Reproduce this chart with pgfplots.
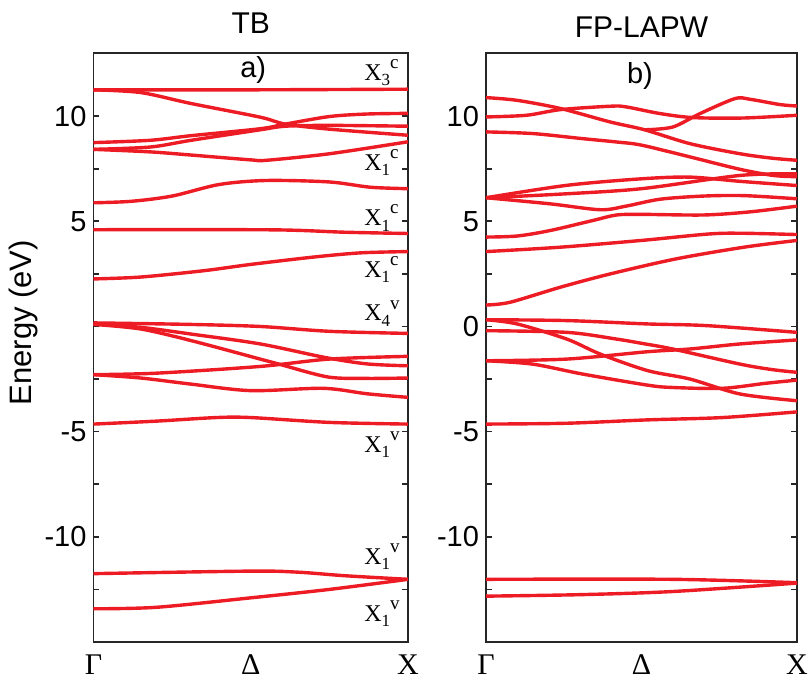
\documentclass[border=0pt]{standalone}
\usepackage{fontspec}
\setmainfont{Liberation Sans}
\newfontfamily\serif{Liberation Serif}
\usepackage{pgfplots}
\pgfplotsset{compat=1.18}
\definecolor{bandred}{RGB}{237,28,36}
\newcommand\XL[2]{{\serif X}\raisebox{-0.5ex}{\fontsize{8.5}{9}\selectfont\serif #1}\raisebox{1.05ex}{\fontsize{9.5}{10}\selectfont #2}}
\pgfplotsset{
  bandax/.style={
    scale only axis, height=294.5pt, anchor=south west,
    xmin=0, xmax=1, ymin=-15, ymax=13, clip=false,
    axis line style={line width=0.8pt, black!85},
    ytick={-12.5,-10,-7.5,-5,-2.5,0,2.5,5,7.5,10},
    ytick style={line width=0.8pt, black!85},
    major tick length=2.8pt,
    yticklabel style={font=\fontsize{14.5}{16}\selectfont},
    xtick={0,0.5,1}, xticklabels={Γ,Δ,X},
    xtick style={draw=none},
    xticklabel style={font=\serif\fontsize{15}{16}\selectfont, inner ysep=0pt, text depth=0pt, yshift=-6pt},
  },
  band/.style={smooth, bandred, line width=1.7pt, mark=none},
}
\begin{document}
\begin{tikzpicture}
\useasboundingbox (-46.75pt,-20pt) rectangle (357.25pt,321pt);
% ---------------- left: TB
\begin{axis}[bandax, at={(0,0)}, width=157.25pt,
  yticklabels={,-10,,-5,,,,5,,10}]
\addplot[band] coordinates {(0,11.25) (0.5,11.25) (1,11.28)};
\addplot[band] coordinates {(0,11.25) (0.15,11.12) (0.31,10.6) (0.53,9.95) (0.61,9.62) (0.75,9.38) (1,9.09)};
\addplot[band] coordinates {(0,8.74) (0.18,8.85) (0.31,9.07) (0.53,9.4) (0.61,9.62) (0.75,9.98) (0.87,10.1) (1,10.13)};
\addplot[band] coordinates {(0,8.42) (0.18,8.53) (0.31,8.85) (0.53,9.35) (0.61,9.52) (0.75,9.56) (1,9.52)};
\addplot[band] coordinates {(0,8.42) (0.18,8.3) (0.31,8.15) (0.5,7.92) (0.55,7.9) (0.75,8.21) (1,8.78)};
\addplot[band] coordinates {(0,5.88) (0.12,5.95) (0.25,6.2) (0.4,6.75) (0.55,6.94) (0.75,6.87) (0.88,6.62) (1,6.55)};
\addplot[band] coordinates {(0,4.6) (0.5,4.6) (0.65,4.57) (0.8,4.48) (1,4.42)};
\addplot[band] coordinates {(0,2.26) (0.15,2.35) (0.35,2.65) (0.5,2.95) (0.7,3.3) (0.85,3.5) (1,3.56)};
\addplot[band] coordinates {(0,0.17) (0.3,0.1) (0.53,0.0) (0.75,-0.23) (1,-0.33)};
\addplot[band] coordinates {(0,0.12) (0.15,-0.04) (0.31,-0.36) (0.53,-0.83) (0.735,-1.47) (0.87,-1.78) (1,-1.87)};
\addplot[band] coordinates {(0,0.1) (0.15,-0.12) (0.31,-0.67) (0.53,-1.55) (0.59,-1.79) (0.745,-2.4) (0.87,-2.47) (1,-2.45)};
\addplot[band] coordinates {(0,-2.29) (0.2,-2.22) (0.53,-1.9) (0.75,-1.55) (1,-1.42)};
\addplot[band] coordinates {(0,-2.29) (0.15,-2.45) (0.31,-2.74) (0.5,-3.05) (0.73,-2.94) (0.87,-3.2) (1,-3.37)};
\addplot[band] coordinates {(0,-4.64) (0.2,-4.5) (0.39,-4.33) (0.5,-4.33) (0.75,-4.56) (1,-4.64)};
\addplot[band] coordinates {(0,-11.75) (0.5,-11.63) (0.65,-11.68) (0.8,-11.85) (1,-12.02)};
\addplot[band] coordinates {(0,-13.42) (0.2,-13.35) (0.5,-12.9) (0.75,-12.5) (1,-12.02)};
\node[anchor=base, font=\fontsize{15}{16}\selectfont] at ([yshift=10pt]rel axis cs:0.5,1) {TB};
\node[font=\fontsize{14.5}{16}\selectfont] at (axis cs:0.508,12.18) {a)};
\node[rotate=90, font=\fontsize{15.5}{16}\selectfont] at ([xshift=-35pt]rel axis cs:0,0.542) {Energy (eV)};
\node[anchor=base west, inner sep=0pt, font=\serif\fontsize{12}{13}\selectfont] at (axis cs:0.86,11.7) {\XL{3}{c}};
\node[anchor=base west, inner sep=0pt, font=\serif\fontsize{12}{13}\selectfont] at (axis cs:0.86,7.42) {\XL{1}{c}};
\node[anchor=base west, inner sep=0pt, font=\serif\fontsize{12}{13}\selectfont] at (axis cs:0.86,4.8) {\XL{1}{c}};
\node[anchor=base west, inner sep=0pt, font=\serif\fontsize{12}{13}\selectfont] at (axis cs:0.86,2.34) {\XL{1}{c}};
\node[anchor=base west, inner sep=0pt, font=\serif\fontsize{12}{13}\selectfont] at (axis cs:0.86,0.28) {\XL{4}{v}};
\node[anchor=base west, inner sep=0pt, font=\serif\fontsize{12}{13}\selectfont] at (axis cs:0.86,-5.99) {\XL{1}{v}};
\node[anchor=base west, inner sep=0pt, font=\serif\fontsize{12}{13}\selectfont] at (axis cs:0.86,-11.31) {\XL{1}{v}};
\node[anchor=base west, inner sep=0pt, font=\serif\fontsize{12}{13}\selectfont] at (axis cs:0.86,-14.01) {\XL{1}{v}};
\end{axis}
% ---------------- right: FP-LAPW
\begin{axis}[bandax, at={(196.25pt,0)}, width=155.5pt,
  yticklabels={,-10,,-5,,0,,5,,10}]
\addplot[band] coordinates {(0,10.88) (0.1,10.75) (0.24,10.36) (0.4,9.72) (0.51,9.35) (0.656,8.69) (0.817,8.21) (0.92,8.0) (1,7.9)};
\addplot[band] coordinates {(0.51,9.35) (0.6,9.48) (0.688,10.12) (0.8,10.83) (0.849,10.8) (0.945,10.55) (1,10.48)};
\addplot[band] coordinates {(0,9.96) (0.13,10.04) (0.24,10.31) (0.4,10.47) (0.45,10.44) (0.56,10.12) (0.666,9.93) (0.827,9.91) (1,10.04)};
\addplot[band] coordinates {(0,9.25) (0.151,9.17) (0.31,8.93) (0.42,8.77) (0.5,8.62) (0.656,8.06) (0.817,7.47) (0.923,7.18) (1,7.12)};
\addplot[band] coordinates {(0,6.12) (0.26,6.71) (0.5,7.02) (0.656,7.1) (0.817,6.9) (1,6.7)};
\addplot[band] coordinates {(0,6.12) (0.25,6.3) (0.5,6.55) (0.817,7.18) (1,7.26)};
\addplot[band] coordinates {(0,6.12) (0.206,5.83) (0.367,5.55) (0.45,5.72) (0.56,6.05) (0.7,6.2) (0.83,6.22) (1,6.07)};
\addplot[band] coordinates {(0,4.25) (0.1,4.3) (0.206,4.56) (0.344,5.04) (0.42,5.3) (0.5,5.33) (0.7,5.3) (0.85,5.45) (1,5.72)};
\addplot[band] coordinates {(0,3.56) (0.24,3.77) (0.5,4.09) (0.72,4.4) (0.83,4.43) (1,4.37)};
\addplot[band] coordinates {(0,1.02) (0.077,1.15) (0.24,1.87) (0.40,2.5) (0.61,3.21) (0.83,3.77) (1,4.09)};
\addplot[band] coordinates {(0,0.32) (0.26,0.28) (0.52,0.12) (0.71,0.04) (1,-0.28)};
\addplot[band] coordinates {(0,-0.2) (0.26,-0.28) (0.42,-0.6) (0.5,-0.8) (0.6,-1.07) (0.817,-1.79) (0.92,-2.05) (1,-2.18)};
\addplot[band] coordinates {(0,0.32) (0.1,0.12) (0.26,-0.6) (0.367,-1.31) (0.52,-2.1) (0.656,-2.5) (0.817,-3.21) (1,-3.53)};
\addplot[band] coordinates {(0,-1.63) (0.26,-1.55) (0.52,-1.2) (0.656,-1.07) (0.817,-0.83) (1,-0.64)};
\addplot[band] coordinates {(0,-1.63) (0.15,-1.79) (0.31,-2.26) (0.52,-2.79) (0.6,-2.9) (0.76,-2.94) (0.9,-2.7) (1,-2.55)};
\addplot[band] coordinates {(0,-4.64) (0.26,-4.6) (0.52,-4.44) (0.76,-4.33) (1,-4.06)};
\addplot[band] coordinates {(0,-12.02) (0.6,-12.02) (1,-12.18)};
\addplot[band] coordinates {(0,-12.82) (0.3,-12.75) (0.6,-12.6) (1,-12.2)};
\node[anchor=base, font=\fontsize{15}{16}\selectfont] at ([yshift=8pt]rel axis cs:0.5,1) {FP-LAPW};
\node[font=\fontsize{14.5}{16}\selectfont] at (axis cs:0.495,11.93) {b)};
\end{axis}
\end{tikzpicture}
\end{document}
